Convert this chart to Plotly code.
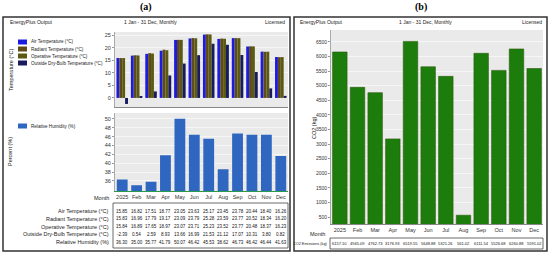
import plotly.graph_objects as go

months = ['2025', 'Feb', 'Mar', 'Apr', 'May', 'Jun', 'Jul', 'Aug', 'Sep', 'Oct', 'Nov', 'Dec']
air_temp = [15.85, 16.82, 17.51, 18.77, 23.05, 23.63, 25.17, 23.45, 23.78, 20.44, 18.40, 16.26]
radiant_temp = [15.83, 16.96, 17.79, 19.17, 23.09, 23.79, 25.28, 23.59, 23.77, 20.52, 18.34, 16.20]
operative_temp = [15.84, 16.89, 17.65, 18.97, 23.07, 23.71, 25.23, 23.52, 23.77, 20.48, 18.37, 16.23]
outside_temp = [-2.39, 0.54, 2.59, 8.93, 13.66, 16.99, 21.53, 21.12, 17.07, 10.31, 3.80, 0.82]
rel_humidity = [36.30, 35.00, 35.77, 41.79, 50.07, 46.42, 45.53, 38.62, 46.73, 46.42, 46.44, 41.63]
co2 = [6157.10, 4945.09, 4762.73, 3176.93, 6519.55, 5648.88, 5321.26, 561.02, 6111.54, 5526.68, 6260.88, 5591.02]

temp_names = ['Air Temperature (°C)', 'Radiant Temperature (°C)',
              'Operative Temperature (°C)', 'Outside Dry-Bulb Temperature (°C)']
temp_series = [air_temp, radiant_temp, operative_temp, outside_temp]
temp_colors = ['#1c1ce0', '#5e4b17', '#5a5a12', '#1a1a5e']

W, H = 550, 257


def px(x):
    return x / W


def py_(y):
    return 1 - y / H


FONT = 'Liberation Sans, Arial, sans-serif'
traces = []

for name, vals, col in zip(temp_names, temp_series, temp_colors):
    traces.append(go.Bar(x=months, y=vals, name=name, marker=dict(color=col, line=dict(width=0)),
                         xaxis='x', yaxis='y', showlegend=False))

traces.append(go.Bar(x=months, y=rel_humidity, marker=dict(color='#2f66c0', line=dict(width=0)),
                     xaxis='x2', yaxis='y2', width=0.75, showlegend=False))

traces.append(go.Bar(x=months, y=co2, marker=dict(color='#1c7d0c', line=dict(color='#2d5a0c', width=0.6)),
                     xaxis='x3', yaxis='y3', width=0.82, showlegend=False))

tick_font = dict(family=FONT, size=5.5, color='#333')
common_x = dict(type='category', showgrid=False, zeroline=False, ticks='', showline=True,
                linecolor='#888', linewidth=1, tickfont=tick_font, range=[-0.5, 11.5], tickangle=0)
common_y = dict(showgrid=True, gridcolor='#f6f6f6', zeroline=False, ticks='outside', ticklen=2,
                tickcolor='#999', tickfont=tick_font, showline=True, linecolor='#aaa', linewidth=1)

shapes = []
annotations = []

# panel borders
for x0, x1 in [(3, 290), (294, 547)]:
    shapes.append(dict(type='rect', xref='paper', yref='paper', x0=px(x0), x1=px(x1),
                       y0=py_(251), y1=py_(17), line=dict(color='#333', width=1.5)))

# panel labels
for lab, xl in [('(a)', 146), ('(b)', 421)]:
    annotations.append(dict(text='<b>%s</b>' % lab, x=px(xl), y=py_(7), xref='paper', yref='paper',
                            showarrow=False,
                            font=dict(family='Liberation Serif, serif', size=10, color='#000')))

hdr = dict(family=FONT, size=5, color='#222')
for x_left, x_mid, x_right in [(8, 150, 287), (298, 425, 544)]:
    annotations.append(dict(text='EnergyPlus Output', x=px(x_left), y=py_(22), xref='paper', yref='paper',
                            showarrow=False, xanchor='left', font=hdr))
    annotations.append(dict(text='1 Jan - 31 Dec, Monthly', x=px(x_mid), y=py_(22), xref='paper',
                            yref='paper', showarrow=False, font=hdr))
    annotations.append(dict(text='Licensed', x=px(x_right), y=py_(22), xref='paper', yref='paper',
                            showarrow=False, xanchor='right', font=hdr))

legend_font = dict(family=FONT, size=4.6, color='#222')
# custom legend, top-left chart
for i, (name, col) in enumerate(zip(temp_names, temp_colors)):
    yc = 42 + i * 7
    shapes.append(dict(type='rect', xref='paper', yref='paper', x0=px(18), x1=px(27),
                       y0=py_(yc + 2.5), y1=py_(yc - 2.5), fillcolor=col, line=dict(width=0)))
    annotations.append(dict(text=name, x=px(29), y=py_(yc), xref='paper', yref='paper', showarrow=False,
                            xanchor='left', font=legend_font))

shapes.append(dict(type='rect', xref='paper', yref='paper', x0=px(18), x1=px(27),
                   y0=py_(128.5), y1=py_(123.5), fillcolor='#2f66c0', line=dict(width=0)))
annotations.append(dict(text='Relative Humidity (%)', x=px(29), y=py_(126), xref='paper', yref='paper',
                        showarrow=False, xanchor='left', font=legend_font))

axis_title = dict(family=FONT, size=5.5, color='#222')
annotations.append(dict(text='Temperature (°C)', x=px(11), y=py_(70), xref='paper', yref='paper',
                        showarrow=False, textangle=-90, font=axis_title))
annotations.append(dict(text='Percent (%)', x=px(10), y=py_(152), xref='paper', yref='paper',
                        showarrow=False, textangle=-90, font=axis_title))
annotations.append(dict(text='CO2 (kg)', x=px(314), y=py_(128), xref='paper', yref='paper',
                        showarrow=False, textangle=-90, font=axis_title))
annotations.append(dict(text='Month', x=px(111), y=py_(198), xref='paper', yref='paper', showarrow=False,
                        xanchor='right', font=axis_title))
annotations.append(dict(text='Month', x=px(327), y=py_(234), xref='paper', yref='paper', showarrow=False,
                        xanchor='right', font=axis_title))

# left table
row_labels = temp_names + ['Relative Humidity (%)']
row_values = temp_series + [rel_humidity]
shapes.append(dict(type='rect', xref='paper', yref='paper', x0=px(113), x1=px(288),
                   y0=py_(248), y1=py_(203), line=dict(color='#444', width=0.8)))
cell_font = dict(family=FONT, size=4.5, color='#111')
for r, (lab, vals) in enumerate(zip(row_labels, row_values)):
    yr = 211 + r * 7.8
    annotations.append(dict(text=lab, x=px(111), y=py_(yr), xref='paper', yref='paper', showarrow=False,
                            xanchor='right', font=dict(family=FONT, size=5.5, color='#222')))
    for i, v in enumerate(vals):
        annotations.append(dict(text='%.2f' % v, x=i, y=py_(yr), xref='x2', yref='paper',
                                showarrow=False, font=cell_font))

# right table
shapes.append(dict(type='rect', xref='paper', yref='paper', x0=px(330), x1=px(543),
                   y0=py_(249), y1=py_(238), line=dict(color='#444', width=0.8)))
annotations.append(dict(text='CO2 Emissions (kg)', x=px(329), y=py_(243.5), xref='paper', yref='paper',
                        showarrow=False, xanchor='right', font=dict(family=FONT, size=3.8, color='#222')))
for i, v in enumerate(co2):
    annotations.append(dict(text='%.2f' % v, x=i, y=py_(243.5), xref='x3', yref='paper',
                            showarrow=False, font=dict(family=FONT, size=4, color='#111')))

# paper-referenced annotations otherwise snap to the nearest edge
for a in annotations:
    a.setdefault('xanchor', 'center')
    a.setdefault('yanchor', 'middle')

layout = go.Layout(
    width=W, height=H,
    margin=dict(l=0, r=0, t=0, b=0),
    paper_bgcolor='white',
    plot_bgcolor='#eaeaea',
    barmode='group',
    bargap=0.2,
    bargroupgap=0,
    xaxis=dict(common_x, domain=[px(115), px(288)], anchor='y', showticklabels=False),
    yaxis=dict(common_y, domain=[py_(107), py_(32)], anchor='x', range=[-3.6, 26.2],
               tickvals=[0, 5, 10, 15, 20, 25]),
    xaxis2=dict(common_x, domain=[px(115), px(288)], anchor='y2', linecolor='#2a9a4a'),
    yaxis2=dict(common_y, domain=[py_(191), py_(113)], anchor='x2', range=[33.7, 51.35],
                tickvals=[36, 38, 40, 42, 44, 46, 48, 50]),
    xaxis3=dict(common_x, domain=[px(331), px(543)], anchor='y3'),
    yaxis3=dict(common_y, domain=[py_(224), py_(30)], anchor='x3', range=[260, 6911],
                tickvals=list(range(500, 7000, 500)), tickfont=dict(family=FONT, size=5, color='#333')),
    shapes=shapes,
    annotations=annotations,
)

fig = go.Figure(data=traces, layout=layout)
fig.write_html('out.html', config={'displayModeBar': False},
               post_script="document.body.style.margin='0';")
